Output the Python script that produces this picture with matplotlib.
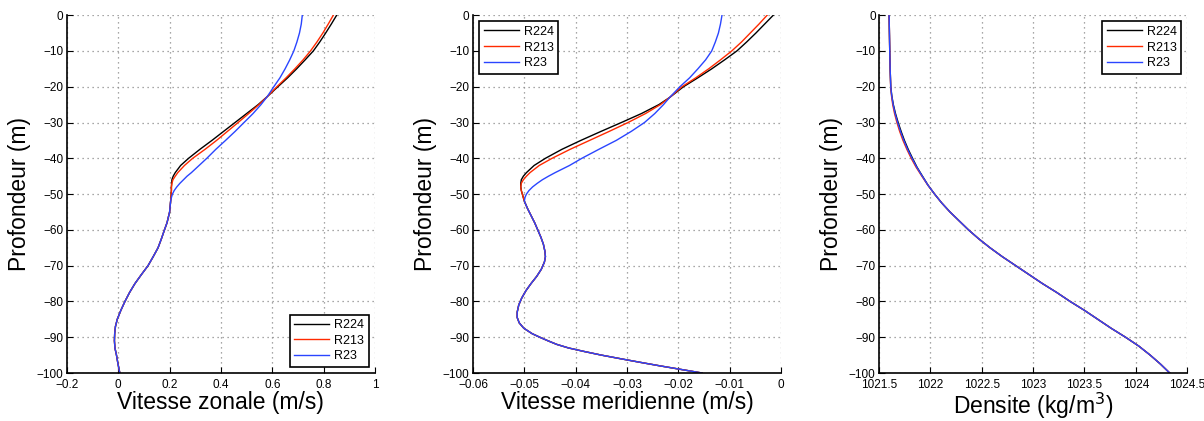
import matplotlib
matplotlib.use("Agg")
import matplotlib.pyplot as plt
import numpy as np

plt.rcParams['font.family'] = ['Liberation Sans', 'DejaVu Sans']

# --------------------------------------------------
# données
# --------------------------------------------------
runs = ["R224", "R213", "R23"]
couleurs = ["black", "#ff2a00", "#2a45ff"]

# ---- vitesse zonale (m/s) ----
# partie haute (les runs different), puis partie basse commune
z_u_haut = [0, -2.5, -5, -7.5, -10, -12.5, -15, -17.5, -20, -22.8, -25, -27.5,
            -30, -32.5, -35, -37.5, -40, -42, -44, -45, -46, -47, -48, -49,
            -50, -51]
z_u_bas = [-52, -55, -58, -60, -62.5, -65, -67.5, -70, -72.5, -75, -77.5, -80,
           -82.5, -85, -87, -89, -91, -93, -95, -97.5, -100]
u_R224 = [0.851, 0.830, 0.808, 0.785, 0.76, 0.728, 0.695, 0.66, 0.622, 0.58,
          0.545, 0.50, 0.455, 0.41, 0.365, 0.318, 0.274, 0.243, 0.222, 0.214,
          0.209, 0.208, 0.207, 0.207, 0.206, 0.205]
u_R213 = [0.838, 0.818, 0.797, 0.774, 0.749, 0.72, 0.688, 0.654, 0.618, 0.58,
          0.548, 0.508, 0.467, 0.425, 0.383, 0.338, 0.29, 0.258, 0.232, 0.222,
          0.213, 0.209, 0.207, 0.207, 0.206, 0.205]
u_R23 = [0.717, 0.713, 0.706, 0.696, 0.684, 0.668, 0.65, 0.63, 0.606, 0.58,
         0.556, 0.525, 0.49, 0.455, 0.418, 0.38, 0.345, 0.315, 0.285, 0.268,
         0.254, 0.24, 0.228, 0.218, 0.211, 0.207]
u_fond = [0.204, 0.200, 0.19, 0.18, 0.168, 0.155, 0.136, 0.116, 0.09, 0.065,
          0.044, 0.026, 0.01, -0.004, -0.011, -0.014, -0.015, -0.013, -0.007,
          -0.001, 0.006]

# ---- vitesse meridienne (m/s) ----
z_v_haut = [0, -2.5, -5, -7.5, -10, -12.5, -15, -17.5, -20, -23, -25, -27.5,
            -30, -32.5, -35, -37.5, -40, -42, -44, -45, -46, -47, -48, -49,
            -50, -51]
z_v_bas = [-52, -54, -56, -58, -60, -62, -64, -66, -67.5, -69, -71, -73, -75,
           -77, -79, -81, -83, -84.5, -86, -87.5, -89, -90, -91, -92, -93, -94,
           -95, -96, -97, -98, -99, -100]
v_R224 = [-0.0015, -0.0032, -0.0049, -0.0067, -0.0086, -0.011, -0.0135,
          -0.0162, -0.019, -0.0217, -0.0238, -0.0272, -0.0311, -0.0351,
          -0.039, -0.0427, -0.0459, -0.0481, -0.0496, -0.0502, -0.0506,
          -0.0507, -0.0507, -0.0506, -0.0504, -0.0502]
v_R213 = [-0.0027, -0.0043, -0.006, -0.0077, -0.0096, -0.0118, -0.0141,
          -0.0166, -0.0193, -0.0217, -0.0235, -0.0264, -0.0298, -0.0335,
          -0.0373, -0.0411, -0.0446, -0.0471, -0.0489, -0.0496, -0.0502,
          -0.0506, -0.0507, -0.0506, -0.0504, -0.0502]
v_R23 = [-0.0115, -0.0118, -0.0122, -0.0128, -0.0135, -0.0147, -0.0162,
         -0.0178, -0.0197, -0.0217, -0.0229, -0.0246, -0.0266, -0.0292,
         -0.0321, -0.0355, -0.0388, -0.0412, -0.044, -0.0453, -0.0465,
         -0.0475, -0.0484, -0.0491, -0.0496, -0.0499]
v_fond = [-0.0500, -0.0494, -0.0487, -0.0480, -0.0474, -0.0468, -0.0463,
          -0.0460, -0.0459, -0.0461, -0.0467, -0.0476, -0.0487, -0.0497,
          -0.0505, -0.0511, -0.0514, -0.0514, -0.0510, -0.0501, -0.0485,
          -0.0470, -0.0454, -0.0437, -0.0414, -0.0383, -0.0350, -0.0313,
          -0.0275, -0.0236, -0.0195, -0.0154]

# ---- densite (kg/m3) ----
z_rho_haut = [0, -5, -10, -15, -20, -22.5, -25, -27.5, -30, -32.5, -35,
              -37.5, -40, -42.5, -45, -47.5]
z_rho_bas = [-50, -52.5, -55, -57.5, -60, -62.5, -65, -67.5, -70, -72.5, -75,
             -77.5, -80, -82.5, -85, -87.5, -90, -92.5, -95, -97.5, -100]
rho_R224 = [1021.597, 1021.600, 1021.603, 1021.607, 1021.613, 1021.623,
            1021.638, 1021.659, 1021.685, 1021.714, 1021.746, 1021.783,
            1021.825, 1021.869, 1021.922, 1021.976]
rho_R213 = [1021.597, 1021.600, 1021.603, 1021.607, 1021.612, 1021.620,
            1021.632, 1021.650, 1021.673, 1021.700, 1021.732, 1021.770,
            1021.812, 1021.860, 1021.916, 1021.974]
rho_R23 = [1021.597, 1021.600, 1021.603, 1021.607, 1021.613, 1021.622,
           1021.636, 1021.655, 1021.680, 1021.708, 1021.740, 1021.777,
           1021.820, 1021.866, 1021.920, 1021.975]
rho_fond = [1022.04, 1022.11, 1022.19, 1022.28, 1022.37, 1022.47, 1022.58,
            1022.70, 1022.83, 1022.96, 1023.09, 1023.23, 1023.36, 1023.50,
            1023.63, 1023.76, 1023.90, 1024.03, 1024.14, 1024.24, 1024.33]

# --------------------------------------------------
# figure
# --------------------------------------------------
fig = plt.figure(figsize=(12.04, 4.21), dpi=100)

panneaux = [
    (0.0556, [u_R224, u_R213, u_R23], u_fond, z_u_haut + z_u_bas, (-0.2, 1.0),
     np.arange(-0.2, 1.01, 0.2),
     ["\u22120.2", "0", "0.2", "0.4", "0.6", "0.8", "1"],
     "Vitesse zonale (m/s)", "lower right"),
    (0.3929, [v_R224, v_R213, v_R23], v_fond, z_v_haut + z_v_bas, (-0.06, 0.0),
     np.arange(-0.06, 0.001, 0.01),
     ["\u22120.06", "\u22120.05", "\u22120.04", "\u22120.03", "\u22120.02",
      "\u22120.01", "0"],
     "Vitesse meridienne (m/s)", "upper left"),
    (0.7302, [rho_R224, rho_R213, rho_R23], rho_fond, z_rho_haut + z_rho_bas,
     (1021.5, 1024.5), np.arange(1021.5, 1024.51, 0.5),
     ["1021.5", "1022", "1022.5", "1023", "1023.5", "1024", "1024.5"],
     "Densite (kg/m$^3$)", "upper right"),
]

yticks = np.arange(-100, 1, 10)
ylabels = ["\u2212%d" % (-t) if t < 0 else "0" for t in yticks]

for gauche, series, fond, z, xlim, xt, xtl, xlab, loc in panneaux:
    ax = fig.add_axes([gauche, 0.114, 0.2558, 0.850])
    for vals, nom, c in zip(series, runs, couleurs):
        ax.plot(vals + fond, z, color=c, linewidth=1.0, label=nom)
    ax.set_xlim(*xlim)
    ax.set_ylim(-100, 0)
    ax.set_xticks(xt)
    ax.set_xticklabels(xtl)
    ax.set_yticks(yticks)
    ax.set_yticklabels(ylabels)
    ax.tick_params(direction="in", labelsize=8.5, length=4, width=0.8)
    ax.tick_params(axis="x", pad=4.5)
    ax.tick_params(axis="y", pad=2.5)
    ax.spines["top"].set_visible(False)
    ax.spines["right"].set_visible(False)
    ax.spines["left"].set_linewidth(1.2)
    ax.spines["bottom"].set_linewidth(1.2)
    ax.grid(True, color="#8a8a8a", linestyle=(0, (1, 3)), linewidth=0.9)
    ax.set_axisbelow(True)
    ax.set_xlabel(xlab, fontsize=16.5, labelpad=0)
    ax.set_ylabel("Profondeur (m)", fontsize=16.5, labelpad=4)
    leg = ax.legend(loc=loc, fontsize=9, fancybox=False, framealpha=1,
                    edgecolor="black", handlelength=2.8, borderpad=0.35,
                    labelspacing=0.3, handletextpad=0.4, borderaxespad=0.5)
    leg.get_frame().set_linewidth(1.2)

fig.savefig("out.png", dpi=100)
